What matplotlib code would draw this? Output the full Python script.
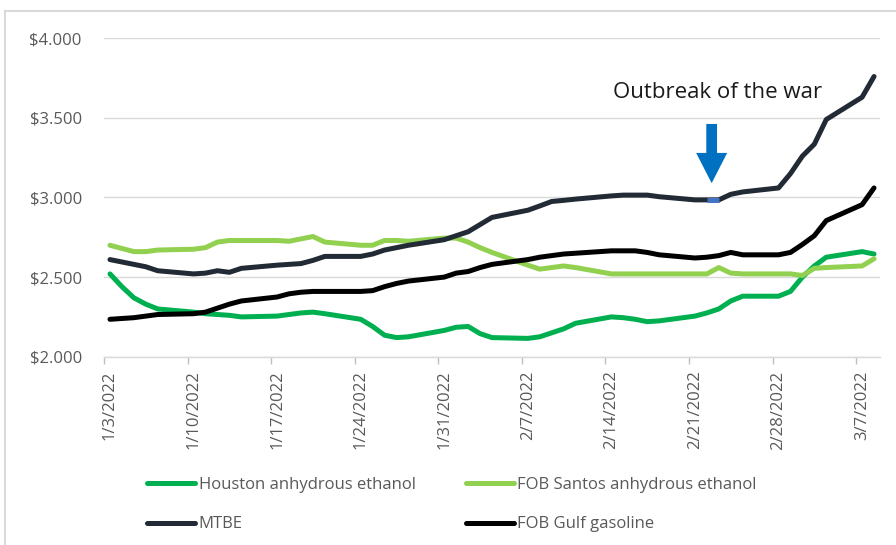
import matplotlib
matplotlib.use("Agg")
import matplotlib.pyplot as plt
import matplotlib.dates as mdates
from matplotlib.patches import FancyArrow
from matplotlib.lines import Line2D
import pandas as pd

# Trading days, 3 Jan - 8 Mar 2022 (USD per gallon)
dates = pd.bdate_range("2022-01-03", "2022-03-08")

houston_ethanol = [
    2.52, 2.44, 2.37, 2.33, 2.30,
    2.28, 2.27, 2.265, 2.26, 2.25,
    2.255, 2.265, 2.275, 2.28, 2.27,
    2.235, 2.19, 2.135, 2.12, 2.125,
    2.165,
    2.185, 2.19, 2.145, 2.12,
    2.115, 2.125, 2.15, 2.175, 2.21,
    2.25, 2.245, 2.235, 2.22, 2.225,
    2.255, 2.275, 2.30, 2.35, 2.38,
    2.38,
    2.41, 2.50, 2.57, 2.625,
    2.66, 2.645,
]
santos_ethanol = [
    2.70, 2.68, 2.66, 2.66, 2.67,
    2.675, 2.685, 2.72, 2.73, 2.73,
    2.73, 2.725, 2.74, 2.755, 2.72,
    2.70, 2.70, 2.73, 2.73, 2.725,
    2.745,
    2.745, 2.72, 2.685, 2.655,
    2.575, 2.55, 2.56, 2.57, 2.56,
    2.52, 2.52, 2.52, 2.52, 2.52,
    2.52, 2.52, 2.56, 2.525, 2.52,
    2.52,
    2.52, 2.51, 2.555, 2.56,
    2.57, 2.615,
]
mtbe = [
    2.61, 2.595, 2.58, 2.565, 2.54,
    2.52, 2.525, 2.54, 2.53, 2.555,
    2.575, 2.58, 2.585, 2.605, 2.63,
    2.63, 2.645, 2.67, 2.685, 2.70,
    2.735,
    2.76, 2.785, 2.83, 2.875,
    2.92, 2.947, 2.975, 2.982, 2.99,
    3.01, 3.015, 3.015, 3.015, 3.005,
    2.985, 2.985, 2.985, 3.02, 3.035,
    3.06,
    3.15, 3.26, 3.335, 3.49,
    3.63, 3.76,
]
gulf_gasoline = [
    2.235, 2.24, 2.245, 2.255, 2.265,
    2.27, 2.28, 2.305, 2.33, 2.35,
    2.375, 2.395, 2.405, 2.41, 2.41,
    2.41, 2.415, 2.44, 2.46, 2.475,
    2.50,
    2.525, 2.535, 2.56, 2.58,
    2.61, 2.625, 2.635, 2.645, 2.65,
    2.665, 2.665, 2.665, 2.655, 2.64,
    2.62, 2.625, 2.635, 2.655, 2.64,
    2.64,
    2.655, 2.705, 2.76, 2.855,
    2.955, 3.06,
]

series_names = ["Houston anhydrous ethanol", "FOB Santos anhydrous ethanol",
                "MTBE", "FOB Gulf gasoline"]
series_values = [houston_ethanol, santos_ethanol, mtbe, gulf_gasoline]
series_colors = ["#00B050", "#92D050", "#222A35", "#000000"]

tick_dates = pd.date_range("2022-01-03", "2022-03-07", freq="7D")
tick_labels = [f"{d.month}/{d.day}/{d.year}" for d in tick_dates]
y_ticks = [2.0, 2.5, 3.0, 3.5, 4.0]
y_labels = ["$2.000", "$2.500", "$3.000", "$3.500", "$4.000"]

event_label = "Outbreak of the war"
event_date = pd.Timestamp("2022-02-23")

plt.rcParams["font.family"] = ["Open Sans", "DejaVu Sans"]

W, H = 896, 545
fig = plt.figure(figsize=(W / 100, H / 100), dpi=100)
fig.patch.set_facecolor("white")

ax = fig.add_axes([104 / W, 1 - 356.7 / H, 776 / W, 318.4 / H])

x = mdates.date2num(dates)
lines = []
for name, vals, col in zip(series_names, series_values, series_colors):
    ln, = ax.plot(x, vals, color=col, lw=3.6, label=name,
                  solid_capstyle="round", solid_joinstyle="round")
    lines.append(ln)

# highlighted MTBE segment at the start of the war
i = list(dates).index(event_date)
ax.plot(x[i - 1:i + 1], mtbe[i - 1:i + 1], color="#4472C4", lw=3.6,
        solid_capstyle="butt", zorder=3)

x0 = mdates.date2num(dates[0]) - 0.5
x1 = mdates.date2num(dates[-1]) + 0.5
ax.set_xlim(x0, x1)
ax.set_ylim(2.0, 4.0)

tick_x = mdates.date2num(tick_dates)
ax.set_xticks(tick_x)
ax.set_xticklabels(tick_labels, rotation=90, fontsize=12, color="#595959")
ax.set_xticks(tick_x - 0.5, minor=True)
ax.tick_params(axis="x", which="major", length=0, pad=10)
ax.tick_params(axis="x", which="minor", length=5, width=1, color="#BFBFBF")

ax.set_yticks(y_ticks)
ax.set_yticklabels(y_labels, fontsize=12, color="#595959")
ax.tick_params(axis="y", length=0, pad=16)

ax.grid(axis="y", color="#D9D9D9", lw=1)
ax.set_axisbelow(True)
for s in ["top", "right", "left"]:
    ax.spines[s].set_visible(False)
ax.spines["bottom"].set_color("#D9D9D9")
ax.spines["bottom"].set_linewidth(1)

# arrow marking the outbreak of the war
ax_x = mdates.date2num(event_date) - 0.6
ax.add_patch(FancyArrow(ax_x, 3.462, 0, -0.372, width=0.9, head_width=2.6,
                        head_length=0.19, length_includes_head=True,
                        color="#0070C0", lw=0, zorder=5))
ax.text(ax_x + 0.5, 3.66, event_label, ha="center", va="center",
        fontsize=16, color="#1A1A1A")

# legend laid out row by row: (Houston, Santos) / (MTBE, Gulf)
order = [0, 2, 1, 3]
leg = ax.legend([lines[k] for k in order], [series_names[k] for k in order],
                loc="upper left", bbox_to_anchor=(147 / W, 1 - 477 / H),
                bbox_transform=fig.transFigure, ncol=2, frameon=False,
                fontsize=12, handlelength=2.9, handletextpad=0.2,
                columnspacing=3.0, borderpad=0, borderaxespad=0,
                labelspacing=1.4)
for t in leg.get_texts():
    t.set_color("#595959")
for h in leg.get_lines():
    h.set_solid_capstyle("round")

# chart frame
fig.add_artist(Line2D([5 / W, 1], [1 - 11 / H, 1 - 11 / H],
                      transform=fig.transFigure, color="#D9D9D9", lw=1.5))
fig.add_artist(Line2D([5 / W, 5 / W], [0, 1 - 11 / H],
                      transform=fig.transFigure, color="#D9D9D9", lw=1.5))

fig.savefig("out.png", dpi=100, facecolor="white")
